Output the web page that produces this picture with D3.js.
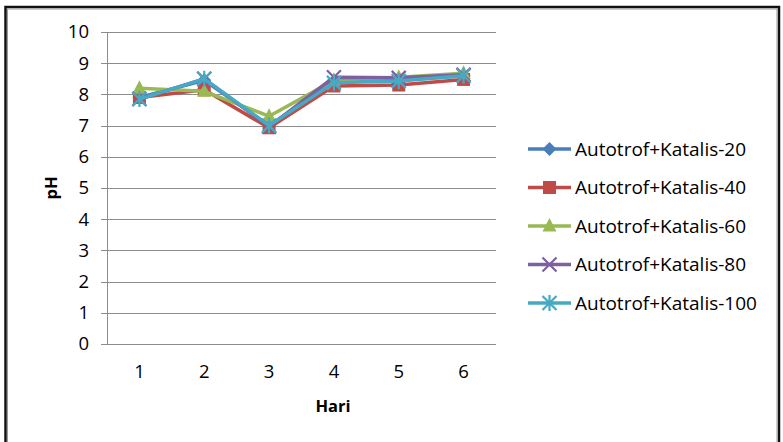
<!DOCTYPE html>
<html>
<head>
<meta charset="utf-8">
<script src="https://cdn.jsdelivr.net/npm/d3@7"></script>
<style>
  html, body { margin: 0; padding: 0; background: #fff; }
  svg { display: block; font-family: "Open Sans", sans-serif; }
</style>
</head>
<body>
<div id="chart"></div>
<script>
// data
const days = [1, 2, 3, 4, 5, 6];
const yTicks = [0, 1, 2, 3, 4, 5, 6, 7, 8, 9, 10];
const seriesNames = ["Autotrof+Katalis-20", "Autotrof+Katalis-40", "Autotrof+Katalis-60", "Autotrof+Katalis-80", "Autotrof+Katalis-100"];
const katalis20 = [7.9, 8.45, 7.0, 8.4, 8.45, 8.6];
const katalis40 = [7.9, 8.15, 6.93, 8.27, 8.3, 8.48];
const katalis60 = [8.2, 8.1, 7.3, 8.45, 8.55, 8.68];
const katalis80 = [7.85, 8.5, 6.97, 8.55, 8.53, 8.63];
const katalis100 = [7.85, 8.5, 7.0, 8.37, 8.43, 8.6];
const allSeries = [katalis20, katalis40, katalis60, katalis80, katalis100];
const colors = ["#4A7EBB", "#BE4B48", "#98B954", "#7D60A0", "#46AAC5"];
const shapes = ["diamond", "square", "triangle", "x", "star"];

const W = 783, H = 442;
const plot = { left: 107, right: 496, top: 32, bottom: 344 };

const svg = d3.select("#chart").append("svg")
    .attr("width", W).attr("height", H);

svg.append("rect").attr("width", W).attr("height", H).attr("fill", "#fff");

// outer frame
svg.append("rect")
    .attr("x", 5.5).attr("y", 7).attr("width", 773.5).attr("height", 450)
    .attr("fill", "none").attr("stroke", "#111").attr("stroke-width", 2.5);
svg.append("rect")
    .attr("x", 7.5).attr("y", 9).attr("width", 769.5).attr("height", 450)
    .attr("fill", "none").attr("stroke", "#999").attr("stroke-width", 1);

const x = d3.scaleBand().domain(days).range([plot.left, plot.right]);
const y = d3.scaleLinear().domain([0, 10]).range([plot.bottom, plot.top]);

// gridlines
svg.append("g")
  .selectAll("line").data(yTicks).join("line")
    .attr("x1", plot.left - 6).attr("x2", plot.right)
    .attr("y1", d => Math.round(y(d)) + 0.5).attr("y2", d => Math.round(y(d)) + 0.5)
    .attr("stroke", "#8c8c8c").attr("stroke-width", 1);

// y axis line
svg.append("line")
    .attr("x1", plot.left + 0.5).attr("x2", plot.left + 0.5)
    .attr("y1", plot.top).attr("y2", plot.bottom)
    .attr("stroke", "#8c8c8c");

// y tick labels
svg.append("g")
  .selectAll("text").data(yTicks).join("text")
    .attr("x", 89).attr("y", d => y(d))
    .attr("dy", "0.35em").attr("text-anchor", "end")
    .style("font-size", "18.5px").style("fill", "#000")
    .text(d => d);

// x tick labels
svg.append("g")
  .selectAll("text").data(days).join("text")
    .attr("x", d => x(d) + x.bandwidth() / 2).attr("y", 372)
    .attr("dy", "0.35em").attr("text-anchor", "middle")
    .style("font-size", "18.5px").style("fill", "#000")
    .text(d => d);

// axis titles
svg.append("text")
    .attr("x", 333).attr("y", 406).attr("dy", "0.35em")
    .attr("text-anchor", "middle")
    .style("font-size", "16.5px").style("font-weight", "bold")
    .text("Hari");
svg.append("text")
    .attr("transform", "translate(51,188) rotate(-90)")
    .attr("dy", "0.35em").attr("text-anchor", "middle")
    .style("font-size", "16.5px").style("font-weight", "bold")
    .text("pH");

function drawMarker(g, shape, color) {
  if (shape === "diamond") {
    g.append("path").attr("d", "M0,-7L7,0L0,7L-7,0Z").attr("fill", color);
  } else if (shape === "square") {
    g.append("rect").attr("x", -6.5).attr("y", -6.5).attr("width", 13).attr("height", 13).attr("fill", color);
  } else if (shape === "triangle") {
    g.append("path").attr("d", "M0,-8L7,5.5L-7,5.5Z").attr("fill", color);
  } else if (shape === "x") {
    g.append("path").attr("d", "M-7,-7L7,7M-7,7L7,-7").attr("stroke", color).attr("stroke-width", 2.2);
  } else {
    g.append("path").attr("d", "M-7,-7L7,7M-7,7L7,-7M0,-8L0,8").attr("stroke", color).attr("stroke-width", 2.2);
  }
}

const line = d3.line()
    .x((d, i) => x(days[i]) + x.bandwidth() / 2)
    .y(d => y(d));

allSeries.forEach((vals, s) => {
  const g = svg.append("g");
  g.append("path").datum(vals)
      .attr("d", line)
      .attr("fill", "none").attr("stroke", colors[s])
      .attr("stroke-width", 3.5).attr("stroke-linejoin", "round");
  vals.forEach((v, i) => {
    const m = g.append("g").attr("transform", `translate(${x(days[i]) + x.bandwidth() / 2},${y(v)})`);
    drawMarker(m, shapes[s], colors[s]);
  });
});

// legend
const legend = svg.append("g");
seriesNames.forEach((name, s) => {
  const ly = 149 + s * 38.5;
  const row = legend.append("g");
  row.append("line")
      .attr("x1", 528).attr("x2", 571).attr("y1", ly).attr("y2", ly)
      .attr("stroke", colors[s]).attr("stroke-width", 3.5);
  const m = row.append("g").attr("transform", `translate(549.5,${ly})`);
  drawMarker(m, shapes[s], colors[s]);
  row.append("text")
      .attr("x", 575).attr("y", ly).attr("dy", "0.35em")
      .style("font-size", "19px").style("fill", "#000")
      .text(name);
});
</script>
</body>
</html>
